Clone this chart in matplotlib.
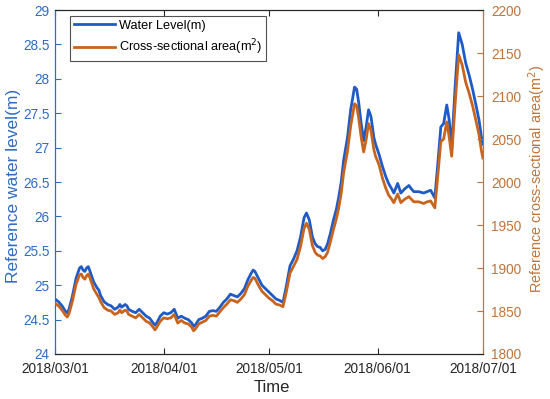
import matplotlib
matplotlib.use("Agg")
import matplotlib.pyplot as plt
import matplotlib.dates as mdates
import pandas as pd
import numpy as np

plt.rcParams['font.family'] = ['Liberation Sans', 'DejaVu Sans']

start = "2018-03-01"
# days after 2018/03/01
days = [0, 1, 2, 3, 3.5, 4, 5, 6, 7, 7.5, 8, 8.5, 9, 9.5, 10, 11, 12, 12.5, 13, 14,
        15, 16, 17, 18, 18.5, 19, 20, 20.5, 21, 22, 23, 24, 25, 26, 27, 28, 28.5, 29, 30, 31,
        32, 33, 34, 35, 36, 37, 38, 39, 39.5, 40, 41, 42, 43, 44, 45, 46, 47, 48, 49, 50,
        51, 52, 53, 54, 55, 56, 56.5, 57, 58, 59, 60, 61, 62, 63, 64, 65, 66, 67, 68, 69,
        70, 71, 71.7, 72.5, 73.4, 74.2, 74.9, 75.6, 76.3, 77, 77.7, 78.5, 79.4, 80.2, 80.9, 81.6, 82.3, 83.4, 84.3, 85.4,
        86, 86.6, 87.3, 88, 88.7, 89.4, 90.1, 90.9, 91.4, 92.4, 93.4, 94.3, 95.1, 96, 96.6, 97.7, 98.6, 99.7, 100.9, 101.6,
        102.3, 103, 103.7, 104.4, 105.1, 106.1, 107.1, 108.3, 109.2, 110, 110.8, 111.7, 112.4, 113.1, 114.1, 115.1, 116.1, 117.1, 118.1, 119.1,
        120.1, 120.9, 121.6, 122]

water_level = [24.80, 24.76, 24.70, 24.62, 24.60, 24.65, 24.85, 25.10, 25.25, 25.27, 25.22, 25.20, 25.25, 25.27, 25.20, 25.05, 24.96, 24.93, 24.85, 24.76,
               24.72, 24.70, 24.65, 24.68, 24.72, 24.68, 24.72, 24.70, 24.65, 24.62, 24.60, 24.65, 24.60, 24.55, 24.52, 24.45, 24.42, 24.45, 24.55, 24.60,
               24.58, 24.60, 24.65, 24.52, 24.55, 24.52, 24.50, 24.45, 24.40, 24.42, 24.50, 24.52, 24.55, 24.62, 24.63, 24.62, 24.68, 24.75, 24.80, 24.87,
               24.85, 24.83, 24.88, 24.95, 25.08, 25.18, 25.22, 25.20, 25.10, 25.00, 24.95, 24.90, 24.85, 24.80, 24.78, 24.75, 25.00, 25.28, 25.38, 25.50,
               25.70, 25.98, 26.05, 25.95, 25.70, 25.60, 25.56, 25.55, 25.50, 25.52, 25.60, 25.75, 25.95, 26.10, 26.28, 26.50, 26.82, 27.15, 27.55, 27.88,
               27.85, 27.65, 27.35, 27.10, 27.30, 27.55, 27.45, 27.15, 27.05, 26.90, 26.72, 26.58, 26.48, 26.40, 26.34, 26.48, 26.34, 26.40, 26.45, 26.40,
               26.36, 26.36, 26.36, 26.35, 26.34, 26.36, 26.38, 26.27, 26.80, 27.30, 27.35, 27.62, 27.40, 27.00, 27.90, 28.67, 28.50, 28.23, 28.05, 27.84,
               27.60, 27.40, 27.15, 27.05]

area = [1859, 1856, 1851, 1845, 1843, 1847, 1862, 1881, 1892, 1893, 1889, 1887, 1891, 1893, 1888, 1876, 1869, 1866, 1861, 1854,
        1851, 1850, 1846, 1848, 1851, 1848, 1851, 1850, 1846, 1844, 1842, 1846, 1842, 1838, 1836, 1831, 1828, 1831, 1838, 1842,
        1841, 1842, 1846, 1836, 1839, 1836, 1835, 1831, 1827, 1829, 1835, 1837, 1839, 1844, 1845, 1844, 1849, 1854, 1858, 1863,
        1862, 1860, 1864, 1869, 1879, 1886, 1889, 1888, 1880, 1873, 1869, 1865, 1862, 1858, 1857, 1855, 1873, 1894, 1902, 1910,
        1925, 1946, 1952, 1945, 1926, 1918, 1915, 1914, 1911, 1913, 1918, 1930, 1945, 1957, 1970, 1987, 2011, 2036, 2065, 2091,
        2089, 2074, 2052, 2035, 2049, 2068, 2060, 2038, 2030, 2020, 2004, 1993, 1985, 1980, 1976, 1986, 1976, 1980, 1983, 1980,
        1977, 1977, 1977, 1976, 1975, 1977, 1978, 1970, 2010, 2047, 2050, 2070, 2052, 2030, 2092, 2148, 2136, 2116, 2103, 2088,
        2070, 2055, 2036, 2028]

month_ticks = ["2018-03-01", "2018-04-01", "2018-05-01", "2018-06-01", "2018-07-01"]

t = pd.Timestamp(start) + pd.to_timedelta(np.array(days), unit="D")

blue_axis = "#2F6BC2"
orange_axis = "#C0743A"
blue_line = "#1F5BC6"
orange_line = "#C8641E"

fig = plt.figure(figsize=(5.5, 3.99), dpi=100)
ax = fig.add_axes([0.1, 0.1128, 0.778, 0.862])
ax2 = ax.twinx()

l1, = ax.plot(t, water_level, color=blue_line, lw=2.0, label="Water Level(m)", zorder=3)
l2, = ax2.plot(t, area, color=orange_line, lw=2.0, label="Cross-sectional area(m$^2$)", zorder=3)

ax.set_xlim(pd.Timestamp(month_ticks[0]), pd.Timestamp(month_ticks[-1]))
ax.set_ylim(24, 29)
ax2.set_ylim(1800, 2200)
ax.set_yticks(np.arange(24, 29.01, 0.5))
ax.set_yticklabels(["24", "24.5", "25", "25.5", "26", "26.5", "27", "27.5", "28", "28.5", "29"])
ax2.set_yticks(np.arange(1800, 2201, 50))
ax.set_xticks([pd.Timestamp(m) for m in month_ticks])
ax.xaxis.set_major_formatter(mdates.DateFormatter("%Y/%m/%d"))

fs = 9.8
ax.tick_params(axis="y", direction="in", colors=blue_axis, labelsize=fs, length=4, pad=4)
ax2.tick_params(axis="y", direction="in", colors=orange_axis, labelsize=fs, length=4, pad=6)
ax.tick_params(axis="x", direction="in", colors="#262626", labelsize=fs, length=4, top=True, pad=6)

for a in (ax, ax2):
    a.spines["top"].set_color("#262626")
    a.spines["bottom"].set_color("#262626")
    a.spines["left"].set_color(blue_axis)
    a.spines["right"].set_color(orange_axis)
    for s in a.spines.values():
        s.set_linewidth(0.8)

ax.set_ylabel("Reference water level(m)", color=blue_axis, fontsize=12.5)
ax.yaxis.set_label_coords(21 / 550, (399 - 186) / 399, transform=fig.transFigure)
ax2.set_ylabel("Reference cross-sectional area(m$^2$)", color=orange_axis, fontsize=10.4)
ax2.yaxis.set_label_coords(526 / 550, (399 - 179) / 399, transform=fig.transFigure)
ax.set_xlabel("Time", color="#262626", fontsize=12)
ax.xaxis.set_label_coords(272 / 550, (399 - 380) / 399, transform=fig.transFigure)

leg = ax.legend(handles=[l1, l2], loc="upper left", bbox_to_anchor=(0.035, 0.983),
                borderaxespad=0, fontsize=9.2, frameon=True, fancybox=False, edgecolor="#262626",
                handlelength=3.2, borderpad=0.3, labelspacing=0.45, handletextpad=0.3)
leg.get_frame().set_linewidth(0.8)

fig.savefig("out.png", dpi=100)
